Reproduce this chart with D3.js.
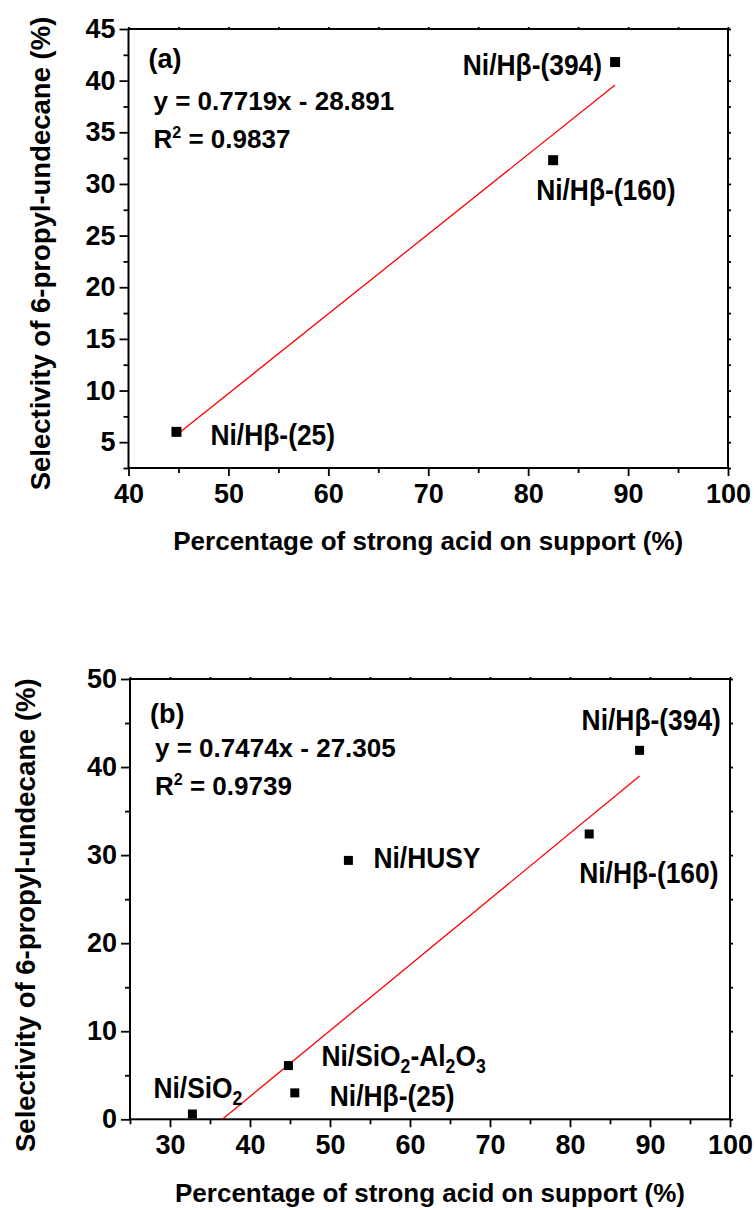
<!DOCTYPE html>
<html>
<head>
<meta charset="utf-8">
<script src="https://cdn.jsdelivr.net/npm/d3@7"></script>
<style>
  body { margin: 0; background: #fff; }
  svg text { font-family: "Liberation Sans", Arial, sans-serif; font-weight: bold; fill: #000; }
</style>
</head>
<body>
<svg id="chart" width="755" height="1210"></svg>
<script>
// Panel (a) data
var acidA = [44.8, 82.5, 88.7];
var selA = [6.0, 32.3, 41.8];
var namesA = ["Ni/Hβ-(25)", "Ni/Hβ-(160)", "Ni/Hβ-(394)"];
var fitA = [0.7719, -28.891, 0.9837];   // slope, intercept, R2

// Panel (b) data
var acidB = [32.8, 44.8, 45.6, 52.3, 82.4, 88.7];
var selB = [0.6, 6.1, 3.0, 29.4, 32.4, 41.9];
var namesB = ["Ni/SiO2", "Ni/SiO2-Al2O3", "Ni/Hβ-(25)", "Ni/HUSY", "Ni/Hβ-(160)", "Ni/Hβ-(394)"];
var fitB = [0.7474, -27.305, 0.9739];

var xTicksA = [40, 50, 60, 70, 80, 90, 100];
var yTicksA = [5, 10, 15, 20, 25, 30, 35, 40, 45];
var xTicksB = [30, 40, 50, 60, 70, 80, 90, 100];
var yTicksB = [0, 10, 20, 30, 40, 50];

var svg = d3.select("#chart");

// label offsets from the point (px) and anchor
var labelPosA = [[34, 13, "start"], [-17, 40, "start"], [-13, 13, "end"]];
var labelPosB = [[-39, -16, "start"], [33, 0, "start"], [35, 13, "start"], [25, 8, "start"], [-10, 49, "start"], [-58, -20, "start"]];

// write a label, digits after O / l become subscripts
function writeLabel(g, name) {
    var t = g.append("text").style("font-size", "30px");
    if (name.indexOf("Si") < 0) { t.text(name); return t; }
    var re = /(O|l)(\d)/g, last = 0, m, sub = false;
    while ((m = re.exec(name)) !== null) {
        t.append("tspan").attr("dy", sub ? -7 : 0).text(name.slice(last, m.index + 1));
        t.append("tspan").attr("dy", 7).style("font-size", "20px").text(m[2]);
        sub = true;
        last = m.index + 2;
    }
    if (last < name.length) t.append("tspan").attr("dy", -7).text(name.slice(last));
    return t;
}

function drawPanel(opt) {
    var x = d3.scaleLinear().domain(opt.xDom).range([opt.left, opt.right]);
    var y = d3.scaleLinear().domain(opt.yDom).range([opt.bottom, opt.top]);
    var g = svg.append("g");

    // minor ticks
    var xMinor = d3.range(opt.xDom[0], opt.xDom[1] + 0.01, opt.xMinorStep).filter(function(v) { return opt.xTicks.indexOf(v) < 0; });
    var yMinor = d3.range(opt.yDom[0], opt.yDom[1] + 0.01, opt.yMinorStep).filter(function(v) { return opt.yTicks.indexOf(v) < 0; });

    var axB = g.append("g").attr("transform", "translate(0," + opt.bottom + ")")
        .call(d3.axisBottom(x).tickValues(opt.xTicks).tickSize(8).tickPadding(8).tickFormat(d3.format("d")));
    axB.append("g").call(d3.axisBottom(x).tickValues(xMinor).tickSize(5).tickFormat(""));
    var axL = g.append("g").attr("transform", "translate(" + opt.left + ",0)")
        .call(d3.axisLeft(y).tickValues(opt.yTicks).tickSize(9).tickPadding(4).tickFormat(d3.format("d")));
    axL.append("g").call(d3.axisLeft(y).tickValues(yMinor).tickSize(5).tickFormat(""));
    // top and right: small ticks only
    g.append("g").attr("transform", "translate(0," + opt.top + ")")
        .call(d3.axisTop(x).tickValues(opt.xTicks.concat(xMinor)).tickSize(2).tickFormat(""));
    g.append("g").attr("transform", "translate(" + opt.right + ",0)")
        .call(d3.axisRight(y).tickValues(opt.yTicks.concat(yMinor)).tickSize(3).tickFormat(""));

    g.selectAll(".domain").remove();
    g.selectAll("g").attr("font-family", null).attr("font-size", null);
    g.selectAll(".tick line").attr("stroke", "#000").attr("stroke-width", 1.8);
    g.selectAll(".tick text").style("font-size", "27px").attr("fill", "#000");

    g.append("rect")
        .attr("x", opt.left).attr("y", opt.top)
        .attr("width", opt.right - opt.left).attr("height", opt.bottom - opt.top)
        .attr("fill", "none").attr("stroke", "#000").attr("stroke-width", 2);

    // fit line, clipped to plot area
    g.append("clipPath").attr("id", "clip" + opt.id)
        .append("rect").attr("x", opt.left).attr("y", opt.top)
        .attr("width", opt.right - opt.left).attr("height", opt.bottom - opt.top);
    var x0 = d3.min(opt.acid), x1 = d3.max(opt.acid);
    var fitPts = [x0, x1].map(function(v) { return [v, opt.fit[0] * v + opt.fit[1]]; });
    g.append("path")
        .attr("clip-path", "url(#clip" + opt.id + ")")
        .attr("d", d3.line().x(function(d) { return x(d[0]); }).y(function(d) { return y(d[1]); })(fitPts))
        .attr("fill", "none").attr("stroke", "#ff0000").attr("stroke-width", 1.3);

    // points
    g.selectAll(".pt").data(opt.acid).enter().append("rect")
        .attr("x", function(d) { return x(d) - opt.size / 2; })
        .attr("y", function(d, i) { return y(opt.sel[i]) - opt.size / 2; })
        .attr("width", opt.size).attr("height", opt.size)
        .attr("fill", "#000");

    // point labels (slightly condensed like the original)
    opt.names.forEach(function(n, i) {
        var p = opt.labelPos[i];
        var lg = g.append("g").attr("transform", "translate(" + (x(opt.acid[i]) + p[0]) + "," + (y(opt.sel[i]) + p[1]) + ") scale(0.88,1)");
        writeLabel(lg, n).attr("text-anchor", p[2]);
    });

    // panel letter, equation, R2
    g.append("text").attr("x", opt.left + 20).attr("y", opt.top + opt.letterDy)
        .style("font-size", "27px").text(opt.letter);
    g.append("text").attr("x", opt.left + 25).attr("y", opt.top + opt.eqDy)
        .style("font-size", "26px")
        .text("y = " + opt.fit[0] + "x - " + Math.abs(opt.fit[1]));
    var r = g.append("text").attr("x", opt.left + 25).attr("y", opt.top + opt.eqDy + 38)
        .style("font-size", "26px");
    r.append("tspan").text("R");
    r.append("tspan").attr("dy", -10).style("font-size", "16px").text("2");
    r.append("tspan").attr("dy", 10).text(" = " + opt.fit[2]);

    // axis titles
    g.append("text").attr("x", (opt.left + opt.right) / 2).attr("y", opt.xTitleY)
        .attr("text-anchor", "middle").style("font-size", "26px")
        .text("Percentage of strong acid on support (%)");
    g.append("text")
        .attr("transform", "translate(" + opt.yTitleX + "," + ((opt.top + opt.bottom) / 2 + opt.yTitleShift) + ") rotate(-90)")
        .attr("text-anchor", "middle").style("font-size", "27.5px")
        .text("Selectivity of 6-propyl-undecane (%)");
}

drawPanel({
    id: "a", xDom: [40, 100], yDom: [2.5, 45],
    left: 128.5, right: 728, top: 29, bottom: 468,
    xTicks: xTicksA, yTicks: yTicksA, xMinorStep: 5, yMinorStep: 2.5,
    acid: acidA, sel: selA, names: namesA, fit: fitA, labelPos: labelPosA,
    size: 10, letter: "(a)", letterDy: 39, eqDy: 81,
    xTitleY: 550, yTitleX: 50, yTitleShift: 5
});

drawPanel({
    id: "b", xDom: [25, 100], yDom: [0, 50],
    left: 130, right: 730, top: 679, bottom: 1119.3,
    xTicks: xTicksB, yTicks: yTicksB, xMinorStep: 5, yMinorStep: 5,
    acid: acidB, sel: selB, names: namesB, fit: fitB, labelPos: labelPosB,
    size: 9, letter: "(b)", letterDy: 44, eqDy: 78,
    xTitleY: 1202, yTitleX: 35, yTitleShift: 16
});
</script>
</body>
</html>
